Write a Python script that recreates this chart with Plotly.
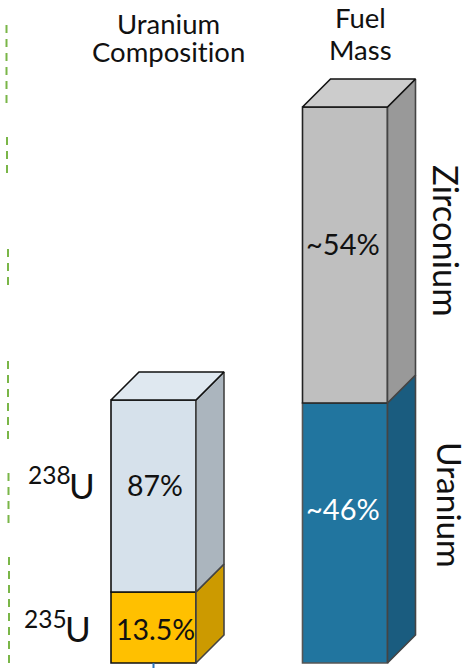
import plotly.graph_objects as go

# Stack heights as drawn in the picture (chart units; 1 unit = 1 px)
columns = ["Uranium Composition", "Fuel Mass"]
composition_names = ["235U", "238U"]
composition_heights = [71, 192]
composition_labels = ["13.5%", "87%"]
fuel_names = ["Uranium", "Zirconium"]
fuel_heights = [260, 296]
fuel_labels = ["~46%", "~54%"]

COL_X = [153.5, 345.0]
BAR_W = 85
DEPTH = 28
FONT = "Lato, Carlito, Calibri, sans-serif"

fronts = {"235U": "#FFC000", "238U": "#D6E1EB", "Uranium": "#21759F", "Zirconium": "#BFBFBF"}
sides = {"235U": "#CC9A00", "238U": "#ABB5BE", "Uranium": "#1A5C7F", "Zirconium": "#999999"}
tops = {"238U": "#DFE8F0", "Zirconium": "#CCCCCC"}
edges = {"235U": "#111111", "238U": "#111111", "Uranium": "#555555", "Zirconium": "#222222"}

fig = go.Figure()


def poly(xs, ys, fill, line):
    fig.add_trace(go.Scatter(x=xs, y=ys, mode="lines", fill="toself", fillcolor=fill,
                             line=dict(color=line, width=1.6), hoverinfo="skip", showlegend=False))


def column(cx, names, heights):
    base = 0
    right = cx + BAR_W / 2
    left = cx - BAR_W / 2
    for name, h in zip(names, heights):
        top = base + h
        fig.add_trace(go.Bar(x=[cx], y=[h], base=[base], width=[BAR_W], name=name,
                             marker=dict(color=fronts[name], line=dict(color=edges[name], width=1.6)),
                             showlegend=False))
        poly([right, right + DEPTH, right + DEPTH, right, right],
             [base, base + DEPTH, top + DEPTH, top, base], sides[name], "#444444")
        base = top
    name = names[-1]
    poly([left, left + DEPTH, right + DEPTH, right, left],
         [base, base + DEPTH, base + DEPTH, base, base], tops[name], "#111111")


column(COL_X[0], composition_names, composition_heights)
column(COL_X[1], fuel_names, fuel_heights)

# Dashed green guide line fragments and blue stub at the cropped bottom
guides = [(6.5, 25, 103), (7, 137, 173), (8, 249, 285), (8, 361, 439), (8.5, 473, 523), (9, 557, 668)]
for gx, y0, y1 in guides:
    fig.add_trace(go.Scatter(x=[gx, gx], y=[663 - y0, 663 - y1], mode="lines",
                             line=dict(color="#7AB648", width=2, dash="8px,6px"),
                             hoverinfo="skip", showlegend=False))
fig.add_trace(go.Scatter(x=[COL_X[0], COL_X[0]], y=[0, -5], mode="lines",
                         line=dict(color="#2E75B6", width=2), hoverinfo="skip", showlegend=False))


def text(x, y, s, size, color="#111111", angle=0):
    fig.add_annotation(x=x, y=663 - y, text=s, showarrow=False, textangle=angle,
                       font=dict(family=FONT, size=size, color=color), align="center")


text(168, 23, "Uranium", 27.5)
text(168, 51, "Composit\u200cion", 27.5)
text(360, 17, "Fuel", 27.5)
text(360, 49, "Mass", 27.5)
text(447, 241, fuel_names[1], 34.5, angle=90)
text(450, 505, fuel_names[0], 33.5, angle=90)
text(155, 484.5, composition_labels[1], 28.5)
text(155, 629, composition_labels[0], 28.5)
text(343, 243, fuel_labels[1], 29)
text(343, 508, fuel_labels[0], 29, color="#FFFFFF")
text(49, 474, "238", 24.5)
text(82, 485, "U", 35)
text(45, 618, "235", 24.5)
text(78, 628, "U", 35)

fig.update_layout(width=471, height=668, margin=dict(l=0, r=0, t=0, b=0),
                  paper_bgcolor="white", plot_bgcolor="white", barmode="overlay",
                  xaxis=dict(range=[0, 471], visible=False),
                  yaxis=dict(range=[-5, 663], visible=False))
fig.write_html("out.html", post_script="document.body.style.margin='0';", config={"displayModeBar": False})
